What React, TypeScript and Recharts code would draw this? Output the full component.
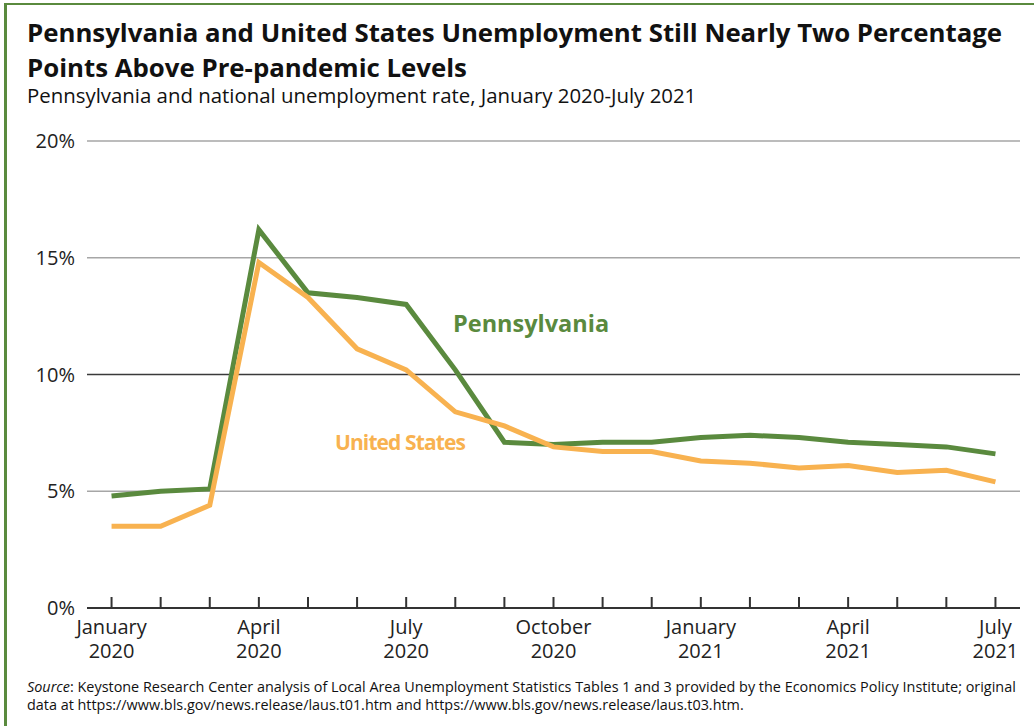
import { LineChart, Line, XAxis, YAxis, ReferenceLine } from "recharts";

const months = [
  "Jan 2020", "Feb 2020", "Mar 2020", "Apr 2020", "May 2020", "Jun 2020",
  "Jul 2020", "Aug 2020", "Sep 2020", "Oct 2020", "Nov 2020", "Dec 2020",
  "Jan 2021", "Feb 2021", "Mar 2021", "Apr 2021", "May 2021", "Jun 2021", "Jul 2021",
];
const paRates = [4.8, 5.0, 5.1, 16.2, 13.5, 13.3, 13.0, 10.2, 7.1, 7.0, 7.1, 7.1, 7.3, 7.4, 7.3, 7.1, 7.0, 6.9, 6.6];
const usRates = [3.5, 3.5, 4.4, 14.8, 13.3, 11.1, 10.2, 8.4, 7.8, 6.9, 6.7, 6.7, 6.3, 6.2, 6.0, 6.1, 5.8, 5.9, 5.4];
const monthLabels = ["January", "", "", "April", "", "", "July", "", "", "October", "", "", "January", "", "", "April", "", "", "July"];
const yearLabels = ["2020", "", "", "2020", "", "", "2020", "", "", "2020", "", "", "2021", "", "", "2021", "", "", "2021"];
const yTicks = [0, 5, 10, 15, 20];
const gridValues = [5, 10, 15, 20];

const GREEN = "#5a8a3e";
const GOLD = "#f8b250";
const FONT = "'Open Sans', sans-serif";

const data = months.map((m, i) => ({ i, month: m, pa: paRates[i], us: usRates[i] }));

/* eslint-disable @typescript-eslint/no-explicit-any */
const MonthTick = ({ x, y, payload }: any) => {
  const i = payload.value as number;
  return (
    <g>
      <line x1={x} x2={x} y1={y - 11} y2={y} stroke="#333" strokeWidth={2} />
      {monthLabels[i] && (
        <text textAnchor="middle" fontSize={20} fill="#222" fontFamily={FONT}>
          <tspan x={x} y={y + 26}>{monthLabels[i]}</tspan>
          <tspan x={x} y={y + 50}>{yearLabels[i]}</tspan>
        </text>
      )}
    </g>
  );
};
/* eslint-enable @typescript-eslint/no-explicit-any */

export default function App() {
  return (
    <div style={{ position: "absolute", left: 0, top: 0, width: 1034, height: 726, overflow: "hidden", background: "#fff" }}>
      <div style={{ position: "absolute", left: 4, top: 3, width: 1100, height: 800, borderLeft: `3px solid ${GREEN}`, borderTop: `2px solid ${GREEN}` }} />
      <LineChart
        width={1034}
        height={726}
        data={data}
        margin={{ top: 141, right: 14, bottom: 0, left: 0 }}
        style={{ position: "absolute", left: 0, top: 0 }}
      >
        <XAxis
          dataKey="i"
          type="number"
          domain={[-0.5, 18.5]}
          ticks={months.map((_, i) => i)}
          interval={0}
          height={118}
          tickSize={0}
          tickMargin={0}
          tickLine={false}
          axisLine={{ stroke: "#333", strokeWidth: 2 }}
          tick={(p: any) => <MonthTick {...p} />}
        />
        <YAxis
          type="number"
          domain={[0, 20]}
          ticks={yTicks}
          width={87}
          axisLine={false}
          tickLine={false}
          tickSize={0}
          tickMargin={12}
          tickFormatter={(v) => `${v}%`}
          tick={{ fontSize: 20, fill: "#222", fontFamily: FONT }}
        />
        {gridValues.map((v) => (
          <ReferenceLine key={v} y={v} stroke={v === 10 ? "#3a3a3a" : "#a6a6a6"} strokeWidth={1.5} />
        ))}
        <Line dataKey="pa" stroke={GREEN} strokeWidth={5} dot={false} strokeLinejoin="miter" isAnimationActive={false} />
        <Line dataKey="us" stroke={GOLD} strokeWidth={5} dot={false} strokeLinejoin="miter" isAnimationActive={false} />
      </LineChart>
      <svg width={1034} height={726} style={{ position: "absolute", left: 0, top: 0, pointerEvents: "none" }} fontFamily={FONT}>
        <text x={27} y={42} fontSize={25.8} fontWeight={700} fill="#111">
          Pennsylvania and United States Unemployment Still Nearly Two Percentage
        </text>
        <text x={27} y={77} fontSize={25.8} fontWeight={700} fill="#111">
          Points Above Pre-pandemic Levels
        </text>
        <text x={27} y={103} fontSize={20.4} fill="#111">
          Pennsylvania and national unemployment rate, January 2020-July 2021
        </text>
        <text x={453} y={332} fontSize={23.5} fontWeight={700} fill={GREEN}>Pennsylvania</text>
        <text x={335} y={450} fontSize={21} fontWeight={700} fill={GOLD} letterSpacing={-0.9}>United States</text>
        <text x={27} y={692} fontSize={14.4} fill="#111">
          <tspan fontStyle="italic">Source</tspan>: Keystone Research Center analysis of Local Area Unemployment Statistics Tables 1 and 3 provided by the Economics Policy Institute; original
        </text>
        <text x={27} y={710} fontSize={14.4} fill="#111">
          data at https://www.bls.gov/news.release/laus.t01.htm and https://www.bls.gov/news.release/laus.t03.htm.
        </text>
      </svg>
    </div>
  );
}
